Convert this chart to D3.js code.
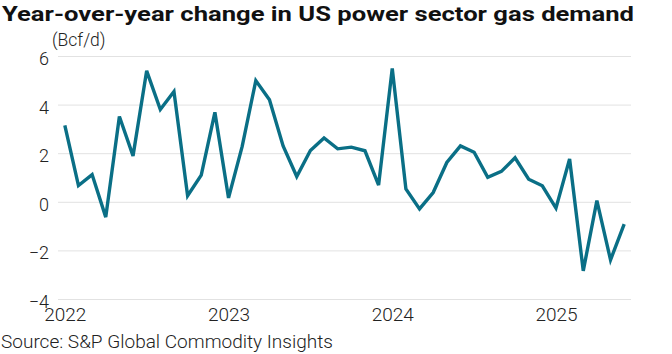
<!DOCTYPE html>
<html><head><meta charset="utf-8">
<script src="https://cdn.jsdelivr.net/npm/d3@7"></script>
<style>
html,body{margin:0;padding:0;background:#fff;}
svg{display:block;}
text{font-family:Roboto,"Noto Sans",sans-serif;}
</style></head>
<body>
<svg id="c" width="672" height="354"></svg>
<script>
const title = "Year-over-year change in US power sector gas demand";
const unitLabel = "(Bcf/d)";
const source = "Source: S&P Global Commodity Insights";
const startYear = 2022;
// monthly values, Jan 2022 .. Jun 2025
const values = [
  3.14, 0.67, 1.12, -0.63, 3.51, 1.89, 5.39, 3.80, 4.54, 0.25, 1.10, 3.68,
  0.16, 2.28, 4.99, 4.20, 2.30, 1.04, 2.11, 2.63, 2.18, 2.25, 2.10, 0.69,
  5.49, 0.53, -0.29, 0.38, 1.62, 2.30, 2.04, 1.01, 1.25, 1.81, 0.93, 0.66,
  -0.26, 1.76, -2.84, 0.05, -2.39, -0.92
];
const yTicks = [-4, -2, 0, 2, 4, 6];
const xTickYears = [2022, 2023, 2024, 2025];

const svg = d3.select("#c");
const x = d3.scaleLinear().domain([-0.5, 41.5]).range([58, 631]);
const y = d3.scaleLinear().domain([-4, 6]).range([299, 56]);

// title
svg.append("text").attr("x", 2).attr("y", 21)
  .attr("font-size", 21).attr("font-weight", 700).attr("fill", "#111")
  .attr("textLength", 632).attr("lengthAdjust", "spacingAndGlyphs")
  .text(title);

// unit
svg.append("text").attr("x", 52).attr("y", 46)
  .attr("font-size", 17.5).attr("font-weight", 300).attr("fill", "#222")
  .text(unitLabel);

// y grid + labels
const yAxis = d3.axisLeft(y).tickValues(yTicks).tickSize(-(631 - 58)).tickPadding(9)
  .tickFormat(d3.format("d"));
const gy = svg.append("g").attr("transform", "translate(58,0)").call(yAxis);
gy.select(".domain").remove();
gy.selectAll(".tick line").attr("stroke", "#e2e2e2").attr("stroke-width", 1);
gy.selectAll(".tick text").attr("font-size", 18).attr("font-weight", 300)
  .attr("fill", "#222").attr("dy", "0.47em").style("font-family", "Roboto");

// x axis labels
const xAxis = d3.axisBottom(x)
  .tickValues(xTickYears.map(yr => (yr - startYear) * 12))
  .tickSize(0).tickPadding(9)
  .tickFormat(d => String(startYear + d / 12));
const gx = svg.append("g").attr("transform", "translate(0,299)").call(xAxis);
gx.select(".domain").remove();
gx.selectAll(".tick text").attr("font-size", 19).attr("font-weight", 300)
  .attr("fill", "#222").attr("dy", "0.71em").style("font-family", "Roboto");

// line
const line = d3.line().x((d, i) => x(i)).y(d => y(d));
svg.append("path").datum(values).attr("d", line)
  .attr("fill", "none").attr("stroke", "#0a6f86").attr("stroke-width", 3.4)
  .attr("stroke-linejoin", "miter").attr("stroke-miterlimit", 4);

// source
svg.append("text").attr("x", 1).attr("y", 348)
  .attr("font-size", 19).attr("font-weight", 300).attr("fill", "#222")
  .attr("textLength", 332).attr("lengthAdjust", "spacingAndGlyphs")
  .text(source);
</script>
</body></html>
